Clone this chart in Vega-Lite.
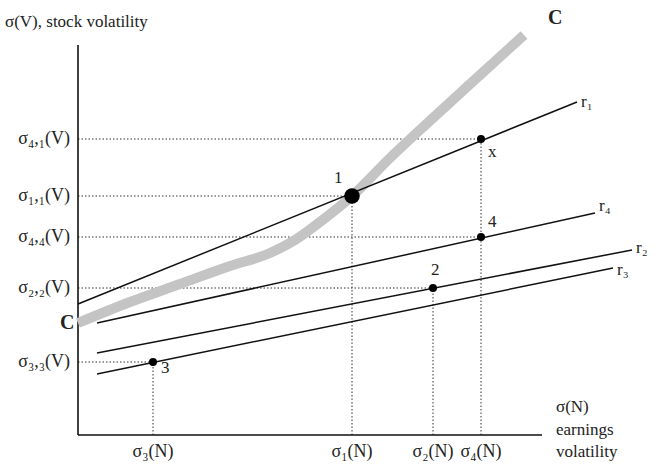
{
  "$schema": "https://vega.github.io/schema/vega-lite/v6.json",
  "width": 665,
  "height": 465,
  "autosize": {"type": "fit", "contains": "padding"},
  "padding": 0,
  "background": "white",
  "view": {"stroke": null},
  "config": {"text": {"font": "Liberation Serif", "fontSize": 16, "color": "#222"}},
  "datasets": {
    "axes": [
      {"x": 0, "y": 0, "x2": 0, "y2": 390},
      {"x": 0, "y": 0, "x2": 464, "y2": 0}
    ],
    "guides": [
      {"x": 0, "y": 296, "x2": 403, "y2": 296},
      {"x": 0, "y": 239, "x2": 274, "y2": 239},
      {"x": 0, "y": 198, "x2": 403, "y2": 198},
      {"x": 0, "y": 147, "x2": 355, "y2": 147},
      {"x": 0, "y": 73, "x2": 75, "y2": 73},
      {"x": 75, "y": 0, "x2": 75, "y2": 73},
      {"x": 274, "y": 0, "x2": 274, "y2": 239},
      {"x": 355, "y": 0, "x2": 355, "y2": 147},
      {"x": 403, "y": 0, "x2": 403, "y2": 296}
    ],
    "curve": [
      {"o": 1, "x": 0, "y": 112},
      {"o": 2, "x": 52, "y": 133},
      {"o": 3, "x": 102, "y": 151},
      {"o": 4, "x": 152, "y": 169},
      {"o": 5, "x": 192, "y": 182},
      {"o": 6, "x": 217, "y": 195},
      {"o": 7, "x": 242, "y": 213},
      {"o": 8, "x": 274, "y": 239},
      {"o": 9, "x": 312, "y": 277},
      {"o": 10, "x": 355, "y": 317},
      {"o": 11, "x": 402, "y": 360},
      {"o": 12, "x": 446, "y": 400}
    ],
    "lines": [
      {"s": "r1", "x": 0, "y": 131},
      {"s": "r1", "x": 499, "y": 333},
      {"s": "r4", "x": 19, "y": 112},
      {"s": "r4", "x": 517, "y": 222},
      {"s": "r2", "x": 19, "y": 82},
      {"s": "r2", "x": 554, "y": 185},
      {"s": "r3", "x": 19, "y": 61},
      {"s": "r3", "x": 535, "y": 167}
    ],
    "points": [
      {"p": "1", "x": 274, "y": 239, "big": 1},
      {"p": "x", "x": 403, "y": 296, "big": 0},
      {"p": "4", "x": 403, "y": 198, "big": 0},
      {"p": "2", "x": 355, "y": 147, "big": 0},
      {"p": "3", "x": 75, "y": 73, "big": 0}
    ],
    "ylabels": [
      {"t": "σ₄,₁(V)", "x": -8, "y": 296},
      {"t": "σ₁,₁(V)", "x": -8, "y": 239},
      {"t": "σ₄,₄(V)", "x": -8, "y": 198},
      {"t": "σ₂,₂(V)", "x": -8, "y": 147},
      {"t": "σ₃,₃(V)", "x": -8, "y": 73}
    ],
    "xlabels": [
      {"t": "σ₃(N)", "x": 75, "y": -17},
      {"t": "σ₁(N)", "x": 274, "y": -17},
      {"t": "σ₂(N)", "x": 355, "y": -17},
      {"t": "σ₄(N)", "x": 403, "y": -17}
    ],
    "leftlabels": [
      {"t": "σ(V), stock volatility", "x": -73, "y": 413},
      {"t": "σ(N)", "x": 478, "y": 28},
      {"t": "earnings", "x": 478, "y": 5},
      {"t": "volatility", "x": 478, "y": -17},
      {"t": "r₁", "x": 503, "y": 333},
      {"t": "r₄", "x": 521, "y": 229},
      {"t": "r₂", "x": 558, "y": 187},
      {"t": "r₃", "x": 539, "y": 165},
      {"t": "1", "x": 256, "y": 257},
      {"t": "x", "x": 410, "y": 283},
      {"t": "4", "x": 410, "y": 213},
      {"t": "2", "x": 353, "y": 165},
      {"t": "3", "x": 83, "y": 67}
    ],
    "clabels": [
      {"t": "C", "x": 470, "y": 417},
      {"t": "C", "x": -18, "y": 112}
    ]
  },
  "layer": [
    {
      "data": {"name": "guides"},
      "mark": {"type": "rule", "strokeDash": [1.5, 2], "stroke": "#333", "strokeWidth": 1},
      "encoding": {
        "x": {"field": "x", "type": "quantitative", "scale": {"domain": [-78, 587], "nice": false}, "axis": null},
        "y": {"field": "y", "type": "quantitative", "scale": {"domain": [-30, 435], "nice": false}, "axis": null},
        "x2": {"field": "x2"},
        "y2": {"field": "y2"}
      }
    },
    {
      "data": {"name": "axes"},
      "mark": {"type": "rule", "stroke": "#111", "strokeWidth": 1.6},
      "encoding": {
        "x": {"field": "x", "type": "quantitative"},
        "y": {"field": "y", "type": "quantitative"},
        "x2": {"field": "x2"},
        "y2": {"field": "y2"}
      }
    },
    {
      "data": {"name": "curve"},
      "mark": {"type": "line", "stroke": "#c4c4c4", "strokeWidth": 10, "interpolate": "monotone", "strokeCap": "butt"},
      "encoding": {
        "x": {"field": "x", "type": "quantitative"},
        "y": {"field": "y", "type": "quantitative"},
        "order": {"field": "o", "type": "quantitative"}
      }
    },
    {
      "data": {"name": "lines"},
      "mark": {"type": "line", "stroke": "#111", "strokeWidth": 1.5},
      "encoding": {
        "x": {"field": "x", "type": "quantitative"},
        "y": {"field": "y", "type": "quantitative"},
        "detail": {"field": "s", "type": "nominal"}
      }
    },
    {
      "data": {"name": "points"},
      "mark": {"type": "circle", "color": "#000", "opacity": 1},
      "encoding": {
        "x": {"field": "x", "type": "quantitative"},
        "y": {"field": "y", "type": "quantitative"},
        "size": {"field": "big", "type": "quantitative", "scale": {"domain": [0, 1], "range": [64, 240]}, "legend": null}
      }
    },
    {
      "data": {"name": "ylabels"},
      "mark": {"type": "text", "align": "right", "baseline": "middle", "fontSize": 18},
      "encoding": {
        "x": {"field": "x", "type": "quantitative"},
        "y": {"field": "y", "type": "quantitative"},
        "text": {"field": "t"}
      }
    },
    {
      "data": {"name": "xlabels"},
      "mark": {"type": "text", "align": "center", "baseline": "middle", "fontSize": 18},
      "encoding": {
        "x": {"field": "x", "type": "quantitative"},
        "y": {"field": "y", "type": "quantitative"},
        "text": {"field": "t"}
      }
    },
    {
      "data": {"name": "leftlabels"},
      "mark": {"type": "text", "align": "left", "baseline": "middle", "fontSize": 17},
      "encoding": {
        "x": {"field": "x", "type": "quantitative"},
        "y": {"field": "y", "type": "quantitative"},
        "text": {"field": "t"}
      }
    },
    {
      "data": {"name": "clabels"},
      "mark": {"type": "text", "align": "left", "baseline": "middle", "fontSize": 20, "fontWeight": "bold"},
      "encoding": {
        "x": {"field": "x", "type": "quantitative"},
        "y": {"field": "y", "type": "quantitative"},
        "text": {"field": "t"}
      }
    }
  ]
}
